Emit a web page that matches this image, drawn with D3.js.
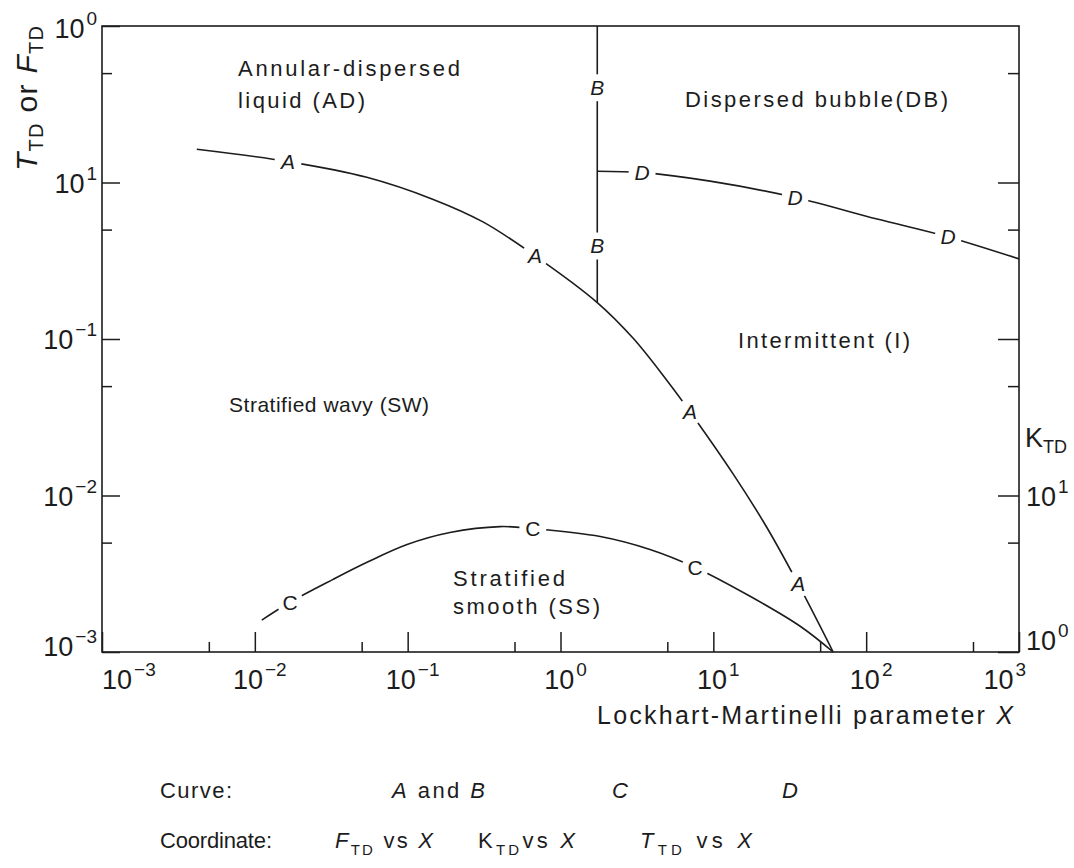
<!DOCTYPE html>
<html><head><meta charset="utf-8">
<script src="https://cdn.jsdelivr.net/npm/d3@7"></script>
<style>
body{margin:0;background:#fff}
svg text{font-family:"Liberation Sans",Arial,Helvetica,sans-serif;fill:#1c1c1c}
</style>
</head><body>
<svg id="c" width="1074" height="868"></svg>
<script>
// ---------------- data ----------------
// Curve A : F_TD vs X
const curveA_X = [0.00417, 0.0165, 0.054, 0.147, 0.311, 0.682, 1.74, 2.99, 5.0, 7.05, 13.5, 22.5, 35.9, 60.8];
const curveA_F = [1.63, 1.36, 1.08, 0.78, 0.56, 0.34, 0.171, 0.101, 0.0539, 0.0342, 0.0137, 0.0062, 0.00272, 0.001];
// Curve B : F_TD vs X (vertical boundary)
const curveB_X = [1.74, 1.74];
const curveB_F = [0.171, 10];
// Curve C : K_TD vs X (right axis)
const curveC_X = [0.0111, 0.0170, 0.0325, 0.0542, 0.0991, 0.189, 0.402, 0.659, 1.82, 3.85, 7.60, 17.4, 37.0, 60.8];
const curveC_K = [1.60, 2.08, 2.91, 3.74, 4.86, 5.80, 6.33, 6.15, 5.47, 4.52, 3.47, 2.27, 1.46, 1.0];
// Curve D : T_TD vs X
const curveD_X = [1.74, 3.42, 9.53, 34.3, 118, 344, 1000];
const curveD_T = [1.18, 1.156, 1.02, 0.802, 0.584, 0.449, 0.325];

// curve label positions (X for A, C, D; F for B)
const labelsA_X = [0.0165, 0.682, 7.05, 35.9];
const labelsB_F = [4.03, 0.393];
const labelsC_X = [0.0170, 0.659, 7.60];
const labelsD_X = [3.42, 34.3, 344];

// ticks
const xMajor = [1e-3, 1e-2, 1e-1, 1, 10, 100, 1000];
const xMinor = [5e-3, 5e-2, 5e-1, 5, 50, 500];
const xTickExp = ["\u22123", "\u22122", "\u22121", "0", "1", "2", "3"];
const yMajor = [10, 1, 0.1, 0.01, 0.001];
const yMinor = [5, 0.5, 0.05, 0.005];
const yTickExp = ["0", "1", "\u22121", "\u22122", "\u22123"];
const kMajor = [1, 10, 100, 1000];
const kMinor = [5, 50, 500, 5000];
const kLabelVals = [1, 10];
const kTickExp = ["0", "1"];

// region names
const regionNames = ["Annular-dispersed", "liquid (AD)", "Dispersed bubble(DB)", "Intermittent (I)",
                     "Stratified wavy (SW)", "Stratified", "smooth (SS)"];

// ---------------- drawing ----------------
const svg = d3.select("#c");
const L = 102, R = 1019, T = 26, B = 652;
const x = d3.scaleLog().domain([1e-3, 1e3]).range([L, R]);
const y = d3.scaleLog().domain([1e-3, 10]).range([B, T]);
const k = d3.scaleLog().domain([1, 1e4]).range([B, T]);
const ink = "#1c1c1c";

function interpLog(xs, ys, xv) {
  const lx = Math.log10(xv);
  for (let i = 0; i < xs.length - 1; i++) {
    const a = Math.log10(xs[i]), b = Math.log10(xs[i + 1]);
    if (lx >= a && lx <= b) {
      const t = (lx - a) / (b - a);
      return Math.pow(10, Math.log10(ys[i]) + t * (Math.log10(ys[i + 1]) - Math.log10(ys[i])));
    }
  }
  return ys[ys.length - 1];
}

// label points
const labelPts = [];
labelsA_X.forEach(v => labelPts.push({t: "A", it: true, px: x(v), py: y(interpLog(curveA_X, curveA_F, v))}));
labelsB_F.forEach(v => labelPts.push({t: "B", it: true, px: x(curveB_X[0]), py: y(v)}));
labelsC_X.forEach(v => labelPts.push({t: "C", it: false, px: x(v), py: k(interpLog(curveC_X, curveC_K, v))}));
labelsD_X.forEach(v => labelPts.push({t: "D", it: true, px: x(v), py: y(interpLog(curveD_X, curveD_T, v))}));

const defs = svg.append("defs");
const mask = defs.append("mask").attr("id", "gap").attr("maskUnits", "userSpaceOnUse")
  .attr("x", 0).attr("y", 0).attr("width", 1074).attr("height", 868);
mask.append("rect").attr("width", 1074).attr("height", 868).attr("fill", "white");
labelPts.forEach(p => mask.append("circle").attr("cx", p.px).attr("cy", p.py).attr("r", 13.5).attr("fill", "black"));

// frame
svg.append("rect").attr("x", L).attr("y", T).attr("width", R - L).attr("height", B - T)
  .attr("fill", "none").attr("stroke", ink).attr("stroke-width", 1.6);

function styleAxis(g) {
  g.select(".domain").remove();
  g.selectAll("line").attr("stroke", ink).attr("stroke-width", 1.5);
  g.selectAll("text").remove();
}
svg.append("g").attr("transform", `translate(0,${B})`)
  .call(d3.axisBottom(x).tickValues(xMajor).tickSize(-20).tickFormat(() => "")).call(styleAxis);
svg.append("g").attr("transform", `translate(0,${B})`)
  .call(d3.axisBottom(x).tickValues(xMinor).tickSize(-10).tickFormat(() => "")).call(styleAxis);
svg.append("g").attr("transform", `translate(${L},0)`)
  .call(d3.axisLeft(y).tickValues(yMajor).tickSize(-18).tickFormat(() => "")).call(styleAxis);
svg.append("g").attr("transform", `translate(${L},0)`)
  .call(d3.axisLeft(y).tickValues(yMinor).tickSize(-10).tickFormat(() => "")).call(styleAxis);
svg.append("g").attr("transform", `translate(${R},0)`)
  .call(d3.axisRight(k).tickValues(kMajor).tickSize(-21).tickFormat(() => "")).call(styleAxis);
svg.append("g").attr("transform", `translate(${R},0)`)
  .call(d3.axisRight(k).tickValues(kMinor).tickSize(-11).tickFormat(() => "")).call(styleAxis);

// power-of-ten tick label
function pow10(px, py, exp, anchor) {
  const t = svg.append("text").attr("x", px).attr("y", py).attr("text-anchor", anchor).attr("font-size", 27);
  t.append("tspan").text("10");
  t.append("tspan").attr("font-size", 19).attr("dy", -13).attr("dx", 2).text(exp);
}
xMajor.forEach((v, i) => {
  if (i === 0) pow10(x(v), 689, xTickExp[i], "start");
  else if (i === xMajor.length - 1) pow10(x(v) + 7, 689, xTickExp[i], "end");
  else pow10(x(v) + 5, 689, xTickExp[i], "middle");
});
yMajor.forEach((v, i) => {
  const yy = i === 0 ? y(v) + 12 : (i === yMajor.length - 1 ? y(v) + 4 : y(v) + 10);
  pow10(97, yy, yTickExp[i], "end");
});
kLabelVals.forEach((v, i) => {
  const yy = i === 0 ? k(v) - 2 : k(v) + 10;
  pow10(1026, yy, kTickExp[i], "start");
});

// curves
const cg = svg.append("g").attr("mask", "url(#gap)").attr("fill", "none")
  .attr("stroke", ink).attr("stroke-width", 1.6);
const lineF = d3.line().x(d => x(d[0])).y(d => y(d[1])).curve(d3.curveCatmullRom.alpha(0.5));
const lineK = d3.line().x(d => x(d[0])).y(d => k(d[1])).curve(d3.curveCatmullRom.alpha(0.5));
cg.append("path").attr("d", lineF(d3.zip(curveA_X, curveA_F)));
cg.append("path").attr("d", d3.line().x(d => x(d[0])).y(d => y(d[1]))(d3.zip(curveB_X, curveB_F)));
cg.append("path").attr("d", lineK(d3.zip(curveC_X, curveC_K)));
cg.append("path").attr("d", lineF(d3.zip(curveD_X, curveD_T)));

// curve labels
labelPts.forEach(p => {
  svg.append("text").attr("x", p.px).attr("y", p.py + 7.5).attr("text-anchor", "middle")
    .attr("font-size", 21).attr("font-style", p.it ? "italic" : "normal").text(p.t);
});

// region names
function label(txt, px, py, size, len) {
  svg.append("text").attr("x", px).attr("y", py).attr("font-size", size)
    .attr("textLength", len).attr("lengthAdjust", "spacing").text(txt);
}
label(regionNames[0], 238, 76, 22, 222);
label(regionNames[1], 238, 108, 22, 127);
label(regionNames[2], 685, 107, 22, 263);
label(regionNames[3], 738, 348, 22, 172);
label(regionNames[4], 229, 412, 21, 200);
label(regionNames[5], 453, 586, 22, 112);
label(regionNames[6], 453, 614, 22, 147);

// x axis title
const xt = svg.append("text").attr("x", 597).attr("y", 724).attr("font-size", 25)
  .attr("textLength", 416).attr("lengthAdjust", "spacing");
xt.append("tspan").text("Lockhart-Martinelli parameter ");
xt.append("tspan").attr("font-style", "italic").text("X");

// left axis title
const yt = svg.append("text").attr("transform", "translate(37,171) rotate(-90)").attr("font-size", 30)
  .attr("textLength", 145).attr("lengthAdjust", "spacing");
yt.append("tspan").attr("font-style", "italic").text("T");
yt.append("tspan").attr("font-size", 20).attr("dy", 6).text("TD");
yt.append("tspan").attr("dy", -6).text(" or ");
yt.append("tspan").attr("font-style", "italic").text("F");
yt.append("tspan").attr("font-size", 20).attr("dy", 6).text("TD");

// right axis title
const kt = svg.append("text").attr("x", 1025).attr("y", 447).attr("font-size", 27);
kt.append("tspan").text("K");
kt.append("tspan").attr("font-size", 18).attr("dy", 6).text("TD");

// legend
function legendText(px, py, parts, len) {
  const t = svg.append("text").attr("x", px).attr("y", py).attr("font-size", 22);
  if (len) t.attr("textLength", len).attr("lengthAdjust", "spacing");
  let shifted = 0;
  parts.forEach(p => {
    const s = t.append("tspan").text(p.s);
    if (p.i) s.attr("font-style", "italic");
    if (p.sub) { s.attr("font-size", 15).attr("dy", 7 - shifted); shifted = 7; }
    else if (shifted) { s.attr("dy", -shifted); shifted = 0; }
  });
}
legendText(160, 798, [{s: "Curve:"}], 72);
legendText(392, 798, [{s: "A", i: true}, {s: " and "}, {s: "B", i: true}], 93);
legendText(612, 798, [{s: "C", i: true}]);
legendText(782, 798, [{s: "D", i: true}]);
legendText(160, 848, [{s: "Coordinate:"}], 112);
legendText(335, 848, [{s: "F", i: true}, {s: "TD", sub: true}, {s: " vs  "}, {s: "X", i: true}], 98);
legendText(478, 848, [{s: "K"}, {s: "TD", sub: true}, {s: "vs "}, {s: "X", i: true}], 97);
legendText(640, 848, [{s: "T", i: true}, {s: "TD", sub: true}, {s: "  vs  "}, {s: "X", i: true}], 112);
</script>
</body></html>
